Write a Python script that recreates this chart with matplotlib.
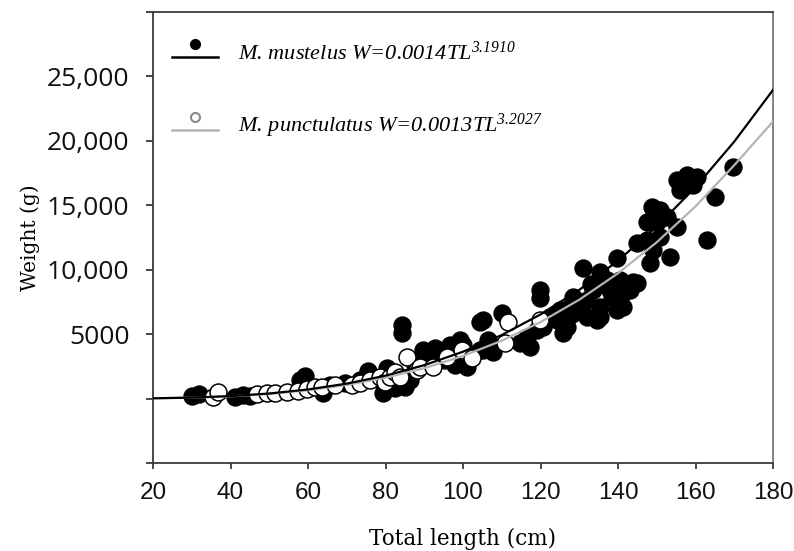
import matplotlib
matplotlib.use("Agg")
import matplotlib.pyplot as plt
from matplotlib.lines import Line2D
from matplotlib.legend_handler import HandlerBase
from matplotlib.ticker import FixedLocator, FixedFormatter

# ---------------- data ----------------
# M. mustelus (filled black) : total length (cm), weight (g)
must_tl = [30.1, 31.9, 41.2, 43.2, 45.0, 57.9, 59.2, 63.9, 65.7, 69.5, 73.4, 75.5,
           77.3, 79.4, 80.4, 81.7, 82.5, 85.0, 84.3, 84.3, 86.3, 87.6, 89.7, 91.0,
           92.8, 93.3, 95.4, 96.6, 97.9, 99.2, 100.0, 101.0, 104.4, 105.2, 105.2,
           106.5, 104.4, 107.7, 110.1, 114.7, 116.5, 117.3, 119.9, 119.9, 119.1,
           120.6, 125.0, 124.3, 125.8, 126.8, 127.6, 128.4, 130.2, 132.0, 134.6,
           131.0, 135.4, 137.2, 140.5, 143.9, 133.5, 137.9, 141.3, 132.0, 135.4,
           139.7, 135.4, 141.3, 144.9, 139.7, 144.9, 147.5, 149.0, 148.3, 153.4,
           150.8, 148.8, 150.8, 147.5, 150.1, 152.6, 155.2, 155.2, 157.8, 160.4,
           156.0, 159.4, 165.0, 163.0, 169.7, 122.5, 128.0, 133.0, 138.5, 143.0]
must_w = [230, 390, 155, 310, 230, 1475, 1780, 465, 1085, 1240, 1475, 2170,
          1630, 465, 2400, 2090, 850, 930, 5735, 5115, 1475, 2635, 3800, 3020,
          3950, 3645, 3020, 4185, 2635, 4575, 4185, 2480, 5970, 6125, 3800,
          4575, 3800, 3645, 6665, 4340, 4805, 4030, 8450, 7830, 5350,
          5580, 6900, 6125, 5115, 5580, 7130, 7905, 7440, 6355, 6125,
          10155, 9845, 9225, 9225, 9070, 8450, 8450, 8215, 7675, 7130,
          6900, 6355, 7130, 8990, 10930, 12095, 12325, 11550, 10540, 11010,
          12560, 14885, 14650, 13720, 13720, 14110, 13335, 16975, 17365, 17210,
          16200, 16590, 15660, 12325, 17985, 6300, 6600, 8900, 7900, 8400]

# M. punctulatus (open white)
punc_tl = [35.5, 36.8, 46.8, 49.4, 51.5, 54.6, 57.4, 59.7, 61.8, 63.6, 67.0, 71.4,
           73.4, 76.0, 78.6, 79.9, 81.2, 82.5, 83.7, 85.5, 88.1, 88.9, 92.3, 95.9,
           99.7, 102.3, 110.8, 111.6, 119.9]
punc_w = [155, 540, 390, 465, 465, 540, 620, 775, 930, 930, 1085, 1085,
          1240, 1475, 1705, 1320, 1705, 2090, 1705, 3255, 2250, 2480, 2480, 3255,
          3800, 3180, 4340, 5970, 6125]

# fitted curves as drawn in the reference (weight read at 10 cm steps)
curve_tl = [20, 30, 40, 50, 60, 70, 80, 90, 100, 110, 120, 130, 140, 150, 160, 170, 180]
must_curve = [21, 76, 192, 393, 707, 1159, 1777, 2593, 3636, 4934, 6527, 8435,
              10700, 13340, 16410, 19940, 23950]
punc_curve = [19, 70, 176, 359, 644, 1056, 1617, 2360, 3307, 4491, 5937, 7670,
              9721, 12130, 14910, 18110, 21500]

x_ticks = [20, 40, 60, 80, 100, 120, 140, 160, 180]
y_ticks = [-5000, 0, 5000, 10000, 15000, 20000, 25000, 30000]
y_tick_labels = ["", "", "5000", "10,000", "15,000", "20,000", "25,000", ""]

label_must = r"M. mustelus W=0.0014TL$^{3.1910}$"
label_punc = r"M. punctulatus W=0.0013TL$^{3.2027}$"

# ---------------- figure ----------------
plt.rcParams["mathtext.fontset"] = "custom"
plt.rcParams["mathtext.rm"] = "Liberation Serif:italic"
plt.rcParams["mathtext.it"] = "Liberation Serif:italic"
plt.rcParams["mathtext.default"] = "regular"
fig = plt.figure(figsize=(7.94, 5.51), dpi=100)
ax = fig.add_axes([153 / 794, 88 / 551, 620 / 794, 451 / 551])

spine_c = "#3a3a3a"
ms = 12.2
ax.plot(must_tl, must_w, ls="none", marker="o", ms=ms, mfc="black", mec="black",
        mew=1.0, zorder=2)
ax.plot(punc_tl, punc_w, ls="none", marker="o", ms=ms, mfc="white", mec="black",
        mew=1.1, zorder=3)
ax.plot(curve_tl, punc_curve, color="#b4b4b4", lw=1.6, zorder=4)
ax.plot(curve_tl, must_curve, color="black", lw=1.6, zorder=5)

ax.set_xlim(20, 180)
ax.set_ylim(-5000, 30000)
ax.xaxis.set_major_locator(FixedLocator(x_ticks))
ax.yaxis.set_major_locator(FixedLocator(y_ticks))
ax.yaxis.set_major_formatter(FixedFormatter(y_tick_labels))

for s in ax.spines.values():
    s.set_color(spine_c)
    s.set_linewidth(1.3)
ax.spines["right"].set_color("#7a7a7a")

ax.tick_params(axis="both", direction="out", color=spine_c, width=1.3)
ax.tick_params(axis="y", length=5, pad=12, labelsize=19, labelcolor="#111111")
ax.tick_params(axis="x", length=4, pad=10, labelsize=17.5, labelcolor="#111111")
for t in ax.get_yticklabels():
    t.set_fontfamily("Open Sans")
for t in ax.get_xticklabels():
    t.set_fontfamily("Liberation Sans")

ax.set_xlabel("Total length (cm)", fontfamily="DejaVu Serif", fontsize=15.5,
              labelpad=17)
ax.set_ylabel("Weight (g)", fontfamily="DejaVu Serif", fontsize=14.5, labelpad=5)


class MarkerOverLine(HandlerBase):
    def create_artists(self, legend, orig_handle, xdescent, ydescent, width,
                       height, fontsize, trans):
        ln, mk = orig_handle
        yc = height / 2 - ydescent
        y_line = yc - 3.8
        y_mk = yc + 5.6
        l = Line2D([-xdescent, width - xdescent], [y_line, y_line],
                   color=ln.get_color(), lw=ln.get_linewidth(), transform=trans)
        m = Line2D([width / 2 - xdescent], [y_mk], ls="none", marker="o",
                   ms=mk.get_markersize(), mfc=mk.get_markerfacecolor(),
                   mec=mk.get_markeredgecolor(), mew=mk.get_markeredgewidth(),
                   transform=trans)
        return [l, m]


h1 = (Line2D([], [], color="black", lw=1.8),
      Line2D([], [], ls="none", marker="o", ms=7, mfc="black", mec="black", mew=1))
h2 = (Line2D([], [], color="#b4b4b4", lw=1.8),
      Line2D([], [], ls="none", marker="o", ms=6.5, mfc="white", mec="#8a8a8a", mew=1.5))
fs = 16
leg = ax.legend([h1, h2], [label_must, label_punc],
                handler_map={tuple: MarkerOverLine()},
                loc="upper left", bbox_to_anchor=(0.031, 0.935),
                frameon=False, borderpad=0, borderaxespad=0,
                handlelength=33 / fs, handletextpad=14.4 / fs, labelspacing=2.15,
                prop={"family": "Liberation Serif", "style": "italic", "size": fs})

fig.savefig("out.png", dpi=100)
